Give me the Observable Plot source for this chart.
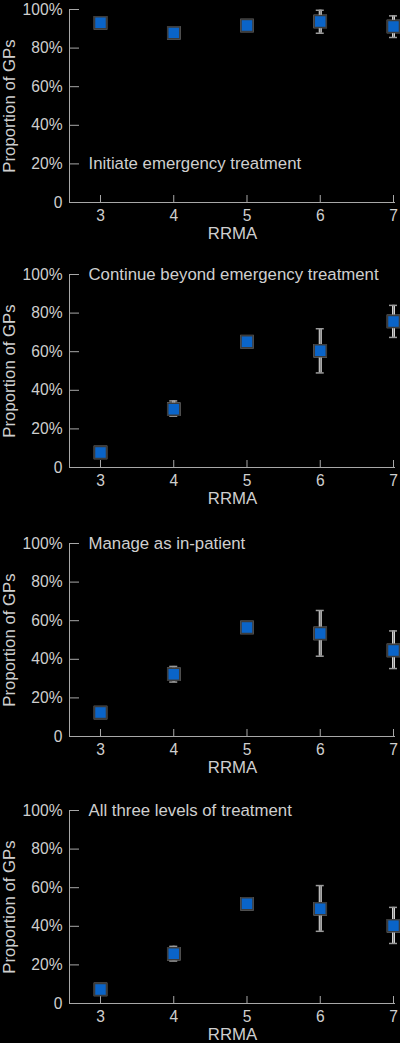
<!DOCTYPE html>
<html>
<head>
<meta charset="utf-8">
<script src="https://cdn.jsdelivr.net/npm/d3@7"></script>
<script src="https://cdn.jsdelivr.net/npm/@observablehq/plot@0.6"></script>
<style>
  html, body { margin: 0; padding: 0; background: #000; }
  #charts { width: 400px; }
  #charts svg { display: block; }
</style>
</head>
<body>
<div id="charts"></div>
<script>
const rrma = [3, 4, 5, 6, 7];
const yTicks = [0, 0.2, 0.4, 0.6, 0.8, 1.0];

const panelTitles = [
  "Initiate emergency treatment",
  "Continue beyond emergency treatment",
  "Manage as in-patient",
  "All three levels of treatment"
];
const titleLevels = [0.2, 1.0, 1.0, 1.0];

const initiateMean = [0.931, 0.879, 0.917, 0.938, 0.912];
const initiateLow  = [0.915, 0.862, 0.900, 0.877, 0.855];
const initiateHigh = [0.947, 0.896, 0.934, 0.996, 0.967];

const continueMean = [0.078, 0.302, 0.652, 0.605, 0.757];
const continueLow  = [0.062, 0.266, 0.632, 0.490, 0.674];
const continueHigh = [0.094, 0.345, 0.672, 0.719, 0.840];

const inpatientMean = [0.124, 0.323, 0.565, 0.534, 0.446];
const inpatientLow  = [0.095, 0.282, 0.545, 0.416, 0.352];
const inpatientHigh = [0.154, 0.363, 0.585, 0.653, 0.547];

const allThreeMean = [0.073, 0.258, 0.517, 0.491, 0.403];
const allThreeLow  = [0.058, 0.220, 0.497, 0.374, 0.311];
const allThreeHigh = [0.088, 0.296, 0.537, 0.611, 0.498];

const series = [
  [initiateMean, initiateLow, initiateHigh],
  [continueMean, continueLow, continueHigh],
  [inpatientMean, inpatientLow, inpatientHigh],
  [allThreeMean, allThreeLow, allThreeHigh]
];

const heights = [265, 269, 267, 242];
const textColor = "#cfcfcf";
const axisColor = "#a8a8a8";
const font = "'Liberation Sans', Arial, Helvetica, sans-serif";

series.forEach(([mean, lo, hi], i) => {
  const data = rrma.map((x, j) => ({x, y: mean[j], lo: lo[j], hi: hi[j]}));
  const chart = Plot.plot({
    width: 400,
    height: heights[i],
    marginTop: 9,
    marginLeft: 69,
    marginRight: 5,
    marginBottom: heights[i] - 9 - 193,
    style: {background: "#000", color: textColor, fontFamily: font, fontSize: "16.8px", overflow: "visible"},
    x: {domain: [2.5768, 7.0273]},
    y: {domain: [0, 1]},
    marks: [
      Plot.axisY({
        ticks: yTicks,
        tickSize: -10,
        tickPadding: 17,
        stroke: axisColor,
        fill: textColor,
        fontSize: 15.6,
        tickFormat: d => d === 0 ? "0" : d3.format(".0%")(d),
        label: null
      }),
      Plot.axisY({
        ticks: [],
        label: "Proportion of GPs",
        labelAnchor: "center",
        labelArrow: "none",
        labelOffset: 66,
        fill: textColor,
        fontSize: 16.8
      }),
      Plot.axisX({
        ticks: rrma,
        tickSize: -7,
        tickPadding: 14,
        stroke: axisColor,
        fill: textColor,
        fontSize: 15.6,
        tickFormat: d3.format("d"),
        label: null
      }),
      Plot.axisX({
        ticks: [],
        label: "RRMA",
        labelAnchor: "center",
        labelArrow: "none",
        labelOffset: 36,
        fill: textColor,
        fontSize: 16.8
      }),
      Plot.ruleX([0], {x: () => 2.5768, y1: 0, y2: 1, stroke: axisColor}),
      Plot.ruleY([0], {stroke: axisColor}),
      Plot.ruleX(data, {x: "x", y1: "lo", y2: "hi", stroke: "#e0e0e0", strokeWidth: 3}),
      Plot.ruleX(data, {x: "x", y1: "lo", y2: "hi", stroke: "#808080", strokeWidth: 1.3}),
      Plot.ruleY(data, {x1: "x", x2: "x", y: "lo", insetLeft: -4, insetRight: -4, stroke: "#9a9a9a", strokeWidth: 1.5}),
      Plot.ruleY(data, {x1: "x", x2: "x", y: "hi", insetLeft: -4, insetRight: -4, stroke: "#9a9a9a", strokeWidth: 1.5}),
      Plot.dot(data, {x: "x", y: "y", symbol: "square", r: 7.6, fill: "#d8d8d8", stroke: "none"}),
      Plot.dot(data, {x: "x", y: "y", symbol: "square", r: 6.8, fill: "#0a64c8", stroke: "#3c3c3c", strokeWidth: 1.6}),
      Plot.text([panelTitles[i]], {
        text: d => d,
        y: () => titleLevels[i],
        frameAnchor: "left",
        dx: 19,
        textAnchor: "start",
        fill: textColor,
        fontSize: 16.8
      })
    ]
  });
  document.getElementById("charts").appendChild(chart);
});
</script>
</body>
</html>
